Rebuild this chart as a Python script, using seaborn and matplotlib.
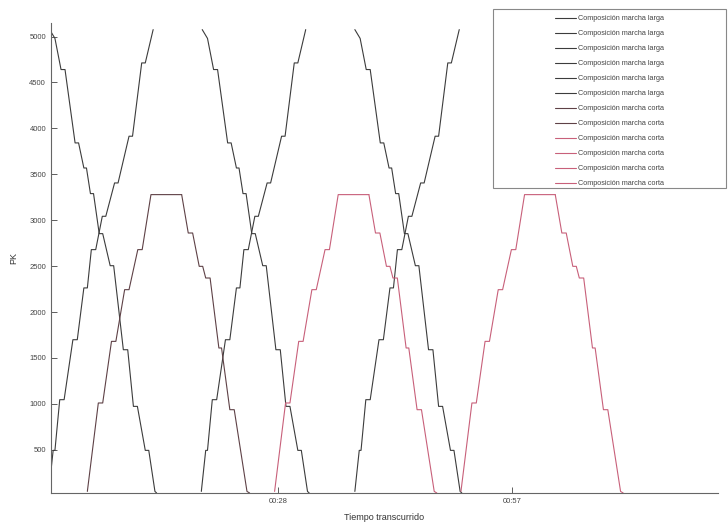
import numpy as np
import pandas as pd
import matplotlib
matplotlib.use("Agg")
import matplotlib.pyplot as plt
from matplotlib.patches import Rectangle
import seaborn as sns

# template trips (minutes from trip start, PK)
larga_desc_t = [0, 0.65, 1.40, 1.89, 3.13, 3.56, 4.21, 4.53, 5.02, 5.40, 6.10, 6.53,
                7.45, 7.88, 9.07, 9.61, 10.31, 10.80, 11.77, 12.20, 12.96, 13.17]
larga_desc_pk = [5076, 4980, 4641, 4641, 3842, 3842, 3569, 3569, 3290, 3290, 2854, 2854,
                 2505, 2505, 1590, 1590, 973, 973, 494, 494, 47, 30]

larga_asc_t = [0, 0.54, 0.76, 1.35, 1.89, 2.97, 3.51, 4.32, 4.75, 5.24, 5.78, 6.59,
               7.02, 8.10, 8.53, 9.88, 10.31, 11.44, 11.88, 12.85]
larga_asc_pk = [47, 494, 494, 1046, 1046, 1699, 1699, 2263, 2263, 2680, 2680, 3043,
                3043, 3406, 3406, 3915, 3915, 4713, 4713, 5076]

corta_up_t = [0, 1.35, 1.89, 2.97, 3.51, 4.59, 5.13, 6.21, 6.75, 7.83, 11.61]
corta_up_pk = [47, 1010, 1010, 1681, 1681, 2244, 2244, 2680, 2680, 3279, 3279]

corta_down_t = [11.61, 12.42, 12.96, 13.77, 14.20, 14.57, 15.11, 16.19, 16.52, 17.54,
                18.08, 19.65, 19.97]
corta_down_pk = [3279, 2861, 2861, 2498, 2498, 2371, 2371, 1609, 1609, 937, 937, 47, 30]

# departure times of each trip (minutes)
larga_desc_start = [0.70, 19.48, 38.27]
larga_asc_start = [0.59, 19.37, 38.27]
corta_start = [5.34, 28.39, 51.33]

x_ticks = [28.8, 57.6]
x_ticklabels = ["00:28", "00:57"]
y_ticks = [500, 1000, 1500, 2000, 2500, 3000, 3500, 4000, 4500, 5000]

sns.set_style("ticks")
plt.rcParams["font.family"] = ["Liberation Sans", "DejaVu Sans"]

fig = plt.figure(figsize=(7.28, 5.23), dpi=100)
ax = fig.add_axes([0.070, 0.0574, 0.916, 0.899])

dark = "#3c3c3c"
red = "#c8607a"
dark_red = "#5e4146"

traces = []
for k in range(3):
    traces.append((np.add(larga_desc_t, larga_desc_start[k]), larga_desc_pk, dark,
                   "Composición marcha larga"))
    traces.append((np.add(larga_asc_t, larga_asc_start[k]), larga_asc_pk, dark,
                   "Composición marcha larga"))
for k in range(3):
    c = dark_red if k == 0 else red
    traces.append((np.add(corta_up_t, corta_start[k]), corta_up_pk, c,
                   "Composición marcha corta"))
    traces.append((np.add(corta_down_t, corta_start[k]), corta_down_pk, c,
                   "Composición marcha corta"))

handles = []
for t, pk, c, lab in traces:
    df = pd.DataFrame({"t": t, "pk": pk})
    sns.lineplot(data=df, x="t", y="pk", color=c, lw=0.8, sort=False,
                 estimator=None, ax=ax, legend=False)
    handles.append((ax.lines[-1], lab))

ax.set_xlim(0.86, 82.95)
ax.set_ylim(30, 5150)
ax.set_xticks(x_ticks)
ax.set_xticklabels(x_ticklabels)
ax.set_yticks(y_ticks)
ax.tick_params(direction="in", length=4, width=0.6, labelsize=5.5, colors="#444444")
ax.set_xlabel("Tiempo transcurrido", fontsize=6.5, color="#333333", labelpad=6)
ax.set_ylabel("PK", fontsize=6.5, color="#333333", labelpad=8)
for s in ["top", "right"]:
    ax.spines[s].set_visible(False)
for s in ["left", "bottom"]:
    ax.spines[s].set_color("#666666")
    ax.spines[s].set_linewidth(0.8)

leg = fig.legend([h for h, _ in handles], [l for _, l in handles],
                 loc="upper left", bbox_to_anchor=(555 / 728, 1 - 15 / 523),
                 bbox_transform=fig.transFigure, frameon=False, fontsize=5.2,
                 handlelength=2.9, handletextpad=0.3, labelspacing=1.1,
                 borderpad=0, borderaxespad=0)
for txt in leg.get_texts():
    txt.set_color("#444444")

fig.patches.append(Rectangle((493 / 728, 1 - 188 / 523), 233 / 728, 179 / 523,
                             transform=fig.transFigure, fill=False,
                             edgecolor="#888888", lw=0.8))

fig.savefig("out.png", dpi=100, facecolor="white")
